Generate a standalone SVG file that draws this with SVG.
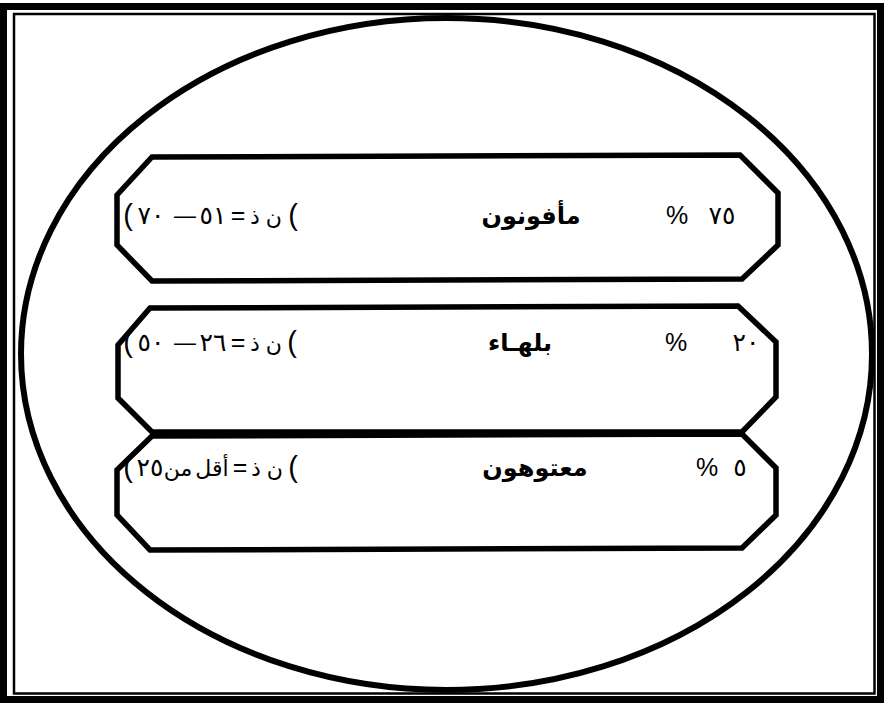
<svg xmlns="http://www.w3.org/2000/svg" width="884" height="703" viewBox="0 0 884 703">
<style>
.bg{fill:#fff}
.frame-out{fill:none;stroke:#000;stroke-width:7}
.frame-in{fill:none;stroke:#000;stroke-width:2.5}
.ell{fill:none;stroke:#000;stroke-width:6}
.box{fill:#fff;stroke:#000;stroke-width:5.5;stroke-linejoin:miter}
.t{font-family:"Liberation Sans","DejaVu Sans",sans-serif;font-size:25px;fill:#000;text-anchor:middle}
.p{font-size:29px;direction:ltr;unicode-bidi:bidi-override}
.d{font-size:22px}
.s{font-size:22px}
.b{font-weight:bold;font-size:24px}
</style>
<rect class="bg" x="0" y="0" width="884" height="703"/>
<g id="frame">
<rect class="frame-out" x="3.5" y="6.5" width="877" height="693"/>
<rect class="frame-in" x="14" y="14" width="860.5" height="679.5"/>
</g>
<g id="ellipse">
<ellipse class="ell" cx="446.5" cy="354" rx="425.5" ry="336"/>
</g>
<g id="connectors"></g>
<g id="box1">
<polygon class="box" points="152,157 740,155 778,193 778,245 742,279 152,281 117,245 117,195"/>
<text class="t p" x="128" y="225">(</text>
<text class="t" x="151" y="224">٧٠</text>
<text class="t d" x="185" y="223">—</text>
<text class="t" x="213" y="224">٥١</text>
<text class="t" x="238" y="224">=</text>
<text class="t s" x="266" y="224">ن ذ</text>
<text class="t p" x="293" y="225">(</text>
<text class="t b" x="531" y="224">مأفونون</text>
<text class="t" x="677" y="224">%</text>
<text class="t" x="722" y="224">٧٥</text>
</g>
<g id="box2">
<polygon class="box" points="150,308 738,306 776,342 776,397 742,432 152,432 118,398 118,345"/>
<text class="t p" x="128" y="352">(</text>
<text class="t" x="151" y="351">٥٠</text>
<text class="t d" x="185" y="350">—</text>
<text class="t" x="213" y="351">٢٦</text>
<text class="t" x="238" y="351">=</text>
<text class="t s" x="266" y="351">ن ذ</text>
<text class="t p" x="292" y="352">(</text>
<text class="t b" x="520" y="351">بلهـاء</text>
<text class="t" x="676" y="351">%</text>
<text class="t" x="746" y="351">٢٠</text>
</g>
<g id="box3">
<polygon class="box" points="152,436 742,434 776,468 776,515 742,548 150,550 117,515 117,470"/>
<text class="t p" x="128" y="477">(</text>
<text class="t" x="150" y="476">٢٥</text>
<text class="t s" x="178" y="476">من</text>
<text class="t s" x="212" y="476">أقل</text>
<text class="t" x="240" y="476">=</text>
<text class="t s" x="267" y="476">ن ذ</text>
<text class="t p" x="293" y="477">(</text>
<text class="t b" x="535" y="476">معتوهون</text>
<text class="t" x="707" y="476">%</text>
<text class="t" x="740" y="476">٥</text>
</g>
</svg>
